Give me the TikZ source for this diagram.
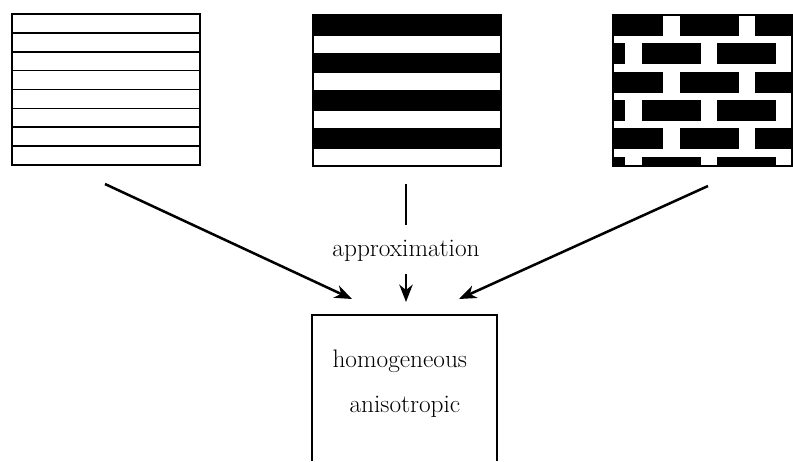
\documentclass[tikz,border=0pt]{standalone}
\usetikzlibrary{arrows.meta}
\tikzset{every picture/.style={line width=0.75pt}}
\tikzset{
  panel/.style={line width=1.2pt},
  flow/.style={line width=1.9pt,-{Stealth[length=13pt,width=10pt,inset=4pt]}},
  lbl/.style={inner sep=0pt,font=\fontsize{19}{23}\selectfont}
}
\begin{document}
\begin{tikzpicture}[x=0.75pt,y=0.75pt,yscale=-1,xscale=1]
\useasboundingbox (0,0) rectangle (793,461);

%Shape: Layered panel (thin lines)
\draw [panel] (12,14) rectangle (200,165);
\foreach \k in {1,...,7}
  \draw [panel] (12,14+18.875*\k) -- (200,14+18.875*\k);

%Shape: Striped panel (thick layers)
\foreach \y in {15,52.7,90.4,128.1}
  \fill (313,\y) rectangle (501,\y+20.5);
\draw [panel] (313,15) rectangle (501,166);

%Shape: Brick panel
\begin{scope}
\clip (613,15) rectangle (792,166);
\foreach \y in {15,71.6,128.2}
  \foreach \x in {604,679.5,755}
    \fill (\x,\y) rectangle (\x+59,\y+21);
\foreach \y in {43.3,99.9,156.5}
  \foreach \x in {566,641.5,717,792.5}
    \fill (\x,\y) rectangle (\x+59,\y+21);
\end{scope}
\draw [panel] (613,15) rectangle (792,166);

%Shape: Result box (open at the bottom)
\draw [panel] (312,461) -- (312,315) -- (497,315) -- (497,461);

%Arrow ends
\coordinate (layS) at (105,184);
\coordinate (layE) at (352,299);
\coordinate (strS) at (406,184);
\coordinate (strM) at (406,225);
\coordinate (strN) at (406,274);
\coordinate (strE) at (406,302);
\coordinate (brkS) at (708,186);
\coordinate (brkE) at (459,299);

%Straight Lines
\draw [flow] (layS) -- (layE);
\draw [line width=1.9pt] (strS) -- (strM);
\draw [flow] (strN) -- (strE);
\draw [flow] (brkS) -- (brkE);

% Text Node
\node [lbl,anchor=base] (approx) at (406,256) {approximation};
% Text Node
\node [lbl,anchor=base west] (homog) at (332,367) {homogeneous};
% Text Node
\node [lbl,anchor=base west] (aniso) at (349,412) {anisotropic};

\end{tikzpicture}
\end{document}
